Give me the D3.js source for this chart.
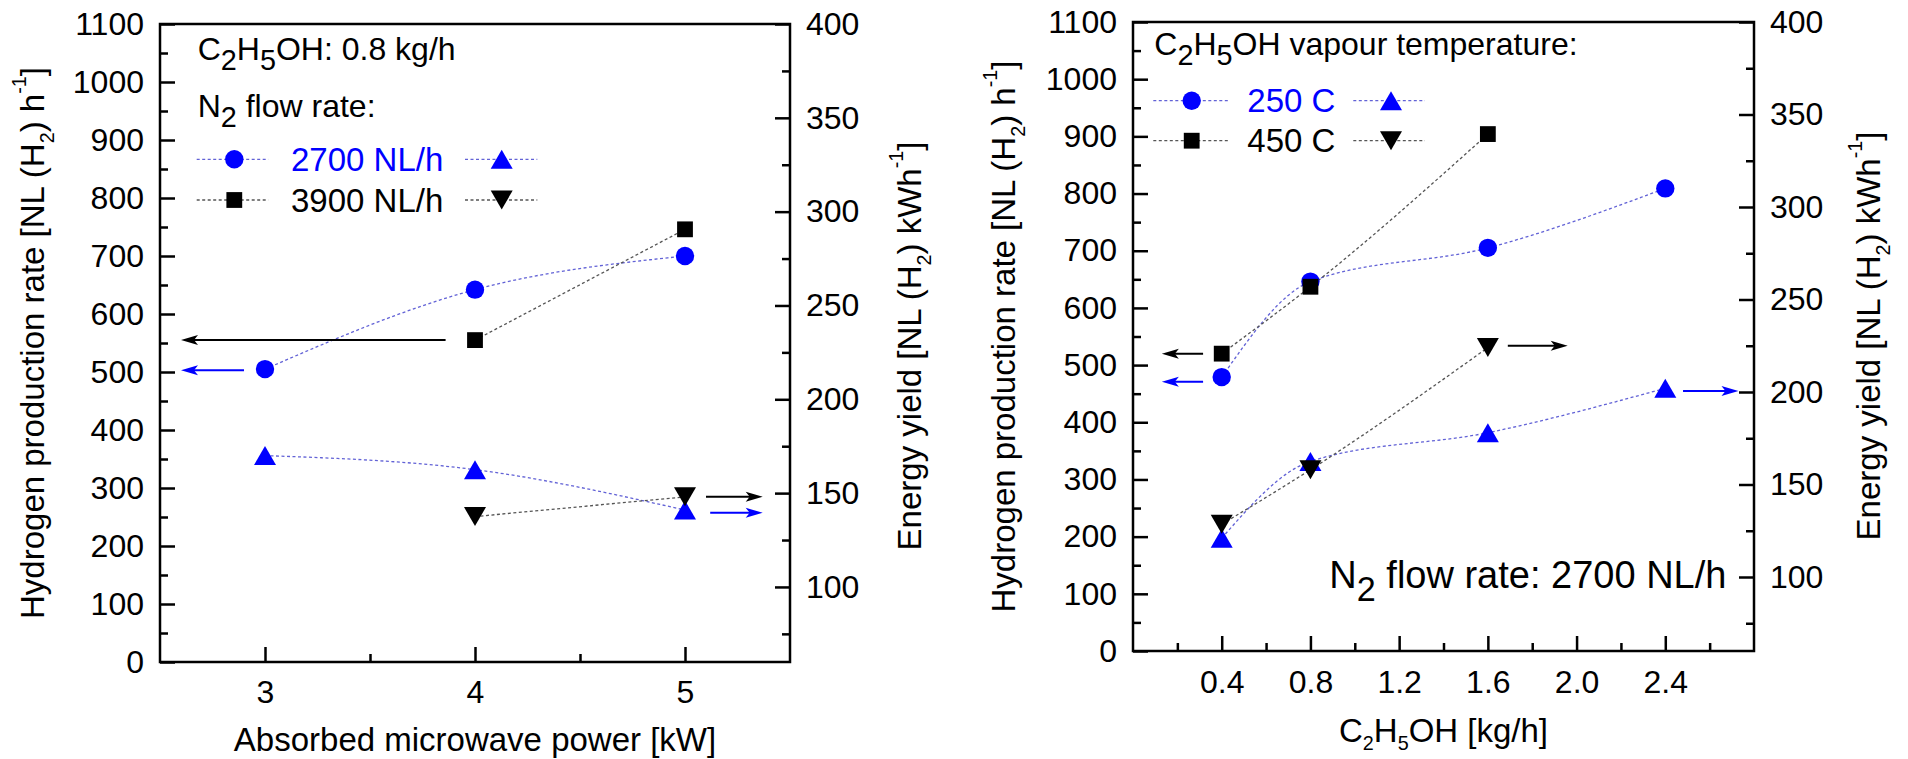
<!DOCTYPE html>
<html>
<head>
<meta charset="utf-8">
<script src="https://cdn.jsdelivr.net/npm/d3@7"></script>
<style>
  body { margin: 0; background: #fff; }
  svg text { font-family: "Liberation Sans", Arial, sans-serif; }
</style>
</head>
<body>
<div id="chart"></div>
<script>
// ---- values ----
// left: absorbed microwave power, C2H5OH 0.8 kg/h
powerKW = [3, 4, 5]
rate2700 = [505, 642, 700]        // H2 production rate, N2 2700 NL/h
rate3900 = [null, 555, 746]       // N2 3900 NL/h
yield2700 = [170, 162.5, 141]     // energy yield
yield3900 = [null, 137.5, 148]

// right: C2H5OH flow, N2 2700 NL/h
ethanolKgH = [0.4, 0.8, 1.6, 2.4]
rate250 = [479, 646, 705, 809]    // vapour 250 C
rate450 = [520, 637, 904, null]   // vapour 450 C
yield250 = [121, 162.5, 178, 202]
yield450 = [128.5, 158, 224, null]

// ticks
rateTicks = d3.range(0, 1101, 100)
rateMinor = d3.range(50, 1100, 100)
yieldTicks = d3.range(100, 401, 50)
yieldMinor = d3.range(75, 400, 50)
powerTicks = [3, 4, 5]
powerMinor = [3.5, 4.5]
ethanolTicks = [0.4, 0.8, 1.2, 1.6, 2.0, 2.4]
ethanolMinor = [0.2, 0.6, 1.0, 1.4, 1.8, 2.2, 2.6]

// arrows telling which axis a series is read on: x from, x to (tip), value
arrowsPower = [
  {series: 1, axis: "rate", from: 3.86, to: 2.6, v: 555},
  {series: 0, axis: "rate", from: 2.9, to: 2.6, v: 503},
  {series: 1, axis: "yield", from: 5.1, to: 5.37, v: 148},
  {series: 0, axis: "yield", from: 5.12, to: 5.37, v: 139.5}
]
arrowsEthanol = [
  {series: 1, axis: "rate", from: 0.316, to: 0.13, v: 520},
  {series: 0, axis: "rate", from: 0.316, to: 0.13, v: 471},
  {series: 1, axis: "yield", from: 1.69, to: 1.96, v: 225},
  {series: 0, axis: "yield", from: 2.48, to: 2.73, v: 200.5}
]

blue = "#0000ff"
black = "#000000"
lineColors = ["#6262d6", "#555555"]
markColors = [blue, black]

svg = d3.select("#chart").append("svg")
  .attr("width", 1908)
  .attr("height", 759)

// text with _{sub} and ^{sup} parts
function rich(text, str, sub, subDy) {
  var fs = +text.attr("font-size")
  var parts = str.match(/_\{[^}]*\}|\^\{[^}]*\}|[^_^]+/g)
  var shift = 0
  parts.forEach(function(p) {
    var size = fs, target = 0, s = p
    if (p[0] == "_") { s = p.slice(2, -1); size = fs * sub; target = subDy * fs }
    else if (p[0] == "^") { s = p.slice(2, -1); size = fs * 0.6; target = -0.55 * fs }
    text.append("tspan")
      .attr("dy", target - shift)
      .attr("font-size", size)
      .text(s)
    shift = target
  })
  return text
}

function label(x, y, str, size, opts) {
  opts = opts || {}
  var t = svg.append("text")
    .attr("font-size", size)
    .attr("fill", opts.color || "#000")
    .attr("text-anchor", opts.anchor || "start")
  if (opts.rotate) t.attr("transform", "translate(" + x + "," + y + ") rotate(-90)")
  else t.attr("x", x).attr("y", y)
  return rich(t, str, opts.sub || 0.6, opts.subDy || 0.3)
}

function marker(g, type, x, y, color) {
  if (type == "circle") {
    g.append("circle").attr("cx", x).attr("cy", y).attr("r", 9.2).attr("fill", color)
  } else if (type == "square") {
    g.append("rect").attr("x", x - 7.9).attr("y", y - 7.9).attr("width", 15.8).attr("height", 15.8).attr("fill", color)
  } else if (type == "up") {
    g.append("path").attr("d", `M${x},${y - 9.5}L${x + 11},${y + 9.5}L${x - 11},${y + 9.5}Z`).attr("fill", color)
  } else {
    g.append("path").attr("d", `M${x},${y + 9.5}L${x + 11},${y - 9.5}L${x - 11},${y - 9.5}Z`).attr("fill", color)
  }
}

function addAxis(gen, tx, ty, major, minor, fmt, pad) {
  var g = svg.append("g").attr("transform", `translate(${tx},${ty})`)
  g.call(gen.tickValues(major).tickFormat(fmt).tickSize(-15).tickSizeOuter(0).tickPadding(pad))
  g.append("g").call(gen.tickValues(minor).tickFormat("").tickSize(-8))
  g.selectAll(".domain").remove()
  g.selectAll(".tick line").attr("stroke-width", 2.5)
  g.attr("font-size", 32)
  g.selectAll("text").attr("fill", "#000")
  return g
}

function drawPanel(p) {
  var x = d3.scaleLinear().domain(p.xDomain).range([p.left, p.right])
  var yRate = d3.scaleLinear().domain([0, 1100]).range([p.bottom, p.top])
  var yYield = d3.scaleLinear().domain([60, 400]).range([p.bottom, p.top])

  addAxis(d3.axisLeft(yRate), p.left, 0, rateTicks, rateMinor, d3.format("d"), 16)
  addAxis(d3.axisRight(yYield), p.right, 0, yieldTicks, yieldMinor, d3.format("d"), 16)
  addAxis(d3.axisBottom(x), 0, p.bottom, p.xTicks, p.xMinor, p.xFormat, p.xPad)

  // frame
  svg.append("rect")
    .attr("x", p.left).attr("y", p.top)
    .attr("width", p.right - p.left).attr("height", p.bottom - p.top)
    .attr("fill", "none").attr("stroke", "#000").attr("stroke-width", 2.5)

  var g = svg.append("g")

  // spline lines first
  p.series.forEach(function(s, i) {
    [[s.rate, yRate], [s.yld, yYield]].forEach(function(pair) {
      var pts = p.xs.map((v, k) => [v, pair[0][k]])
      var line = d3.line()
        .defined(d => d[1] != null)
        .x(d => x(d[0]))
        .y(d => pair[1](d[1]))
        .curve(d3.curveMonotoneX)
      g.append("path")
        .attr("d", line(pts))
        .attr("fill", "none")
        .attr("stroke", lineColors[i])
        .attr("stroke-width", 1.3)
        .attr("stroke-dasharray", "3,2.5")
    })
  })

  // markers
  p.series.forEach(function(s, i) {
    p.xs.forEach(function(v, k) {
      if (s.rate[k] != null) marker(g, s.marks[0], x(v), yRate(s.rate[k]), markColors[i])
      if (s.yld[k] != null) marker(g, s.marks[1], x(v), yYield(s.yld[k]), markColors[i])
    })
  })

  // arrows
  p.arrows.forEach(function(a) {
    var y = a.axis == "rate" ? yRate(a.v) : yYield(a.v)
    var x0 = x(a.from), x1 = x(a.to)
    var dir = x1 < x0 ? -1 : 1
    var c = markColors[a.series]
    g.append("line")
      .attr("x1", x0).attr("x2", x1 - dir * 10)
      .attr("y1", y).attr("y2", y)
      .attr("stroke", c).attr("stroke-width", 2)
    g.append("path")
      .attr("d", `M${x1},${y}L${x1 - dir * 17},${y - 5}L${x1 - dir * 13},${y}L${x1 - dir * 17},${y + 5}Z`)
      .attr("fill", c)
  })

  // legend
  var L = p.legend
  p.series.forEach(function(s, i) {
    var ry = L.rows[i]
    ;[[L.line1, L.m1, s.marks[0]], [L.line2, L.m2, s.marks[1]]].forEach(function(e) {
      g.append("line")
        .attr("x1", e[0][0]).attr("x2", e[0][1])
        .attr("y1", ry).attr("y2", ry)
        .attr("stroke", lineColors[i]).attr("stroke-width", 1.3)
        .attr("stroke-dasharray", "3,2.5")
      marker(g, e[2], e[1], ry, markColors[i])
    })
    label(L.tx, ry + 11.5, s.name, 33, {color: markColors[i]})
  })
}

drawPanel({
  left: 160, right: 790, top: 24, bottom: 662,
  xDomain: [2.5, 5.5], xs: powerKW,
  xTicks: powerTicks, xMinor: powerMinor, xFormat: d3.format("d"), xPad: 18,
  series: [
    {name: "2700 NL/h", rate: rate2700, yld: yield2700, marks: ["circle", "up"]},
    {name: "3900 NL/h", rate: rate3900, yld: yield3900, marks: ["square", "down"]}
  ],
  arrows: arrowsPower,
  legend: {rows: [159.3, 200], line1: [196.7, 268.3], m1: 234.3, tx: 291, line2: [465, 537.3], m2: 501.7}
})

drawPanel({
  left: 1133, right: 1754, top: 22, bottom: 651,
  xDomain: [0, 2.8], xs: ethanolKgH,
  xTicks: ethanolTicks, xMinor: ethanolMinor, xFormat: d3.format(".1f"), xPad: 19,
  series: [
    {name: "250 C", rate: rate250, yld: yield250, marks: ["circle", "up"]},
    {name: "450 C", rate: rate450, yld: yield450, marks: ["square", "down"]}
  ],
  arrows: arrowsEthanol,
  legend: {rows: [100.7, 140.7], line1: [1153.3, 1229.3], m1: 1191.7, tx: 1247.3, line2: [1353.3, 1425], m2: 1391}
})

// annotations
label(197.7, 60, "C_{2}H_{5}OH: 0.8 kg/h", 32, {sub: 0.9, subDy: 0.3})
label(197.7, 117, "N_{2} flow rate:", 32, {sub: 0.9, subDy: 0.3})
label(1154.3, 55, "C_{2}H_{5}OH vapour temperature:", 32, {sub: 0.9, subDy: 0.3})
label(1329.3, 588, "N_{2} flow rate: 2700 NL/h", 38, {sub: 0.9, subDy: 0.35})

// axis titles
label(44, 343, "Hydrogen production rate [NL (H_{2}) h^{-1}]", 33, {rotate: true, anchor: "middle"})
label(921, 346, "Energy yield [NL (H_{2}) kWh^{-1}]", 33, {rotate: true, anchor: "middle"})
label(475, 751, "Absorbed microwave power [kW]", 33, {anchor: "middle"})
label(1015, 336.5, "Hydrogen production rate [NL (H_{2}) h^{-1}]", 33, {rotate: true, anchor: "middle"})
label(1880, 336, "Energy yield [NL (H_{2}) kWh^{-1}]", 33, {rotate: true, anchor: "middle"})
label(1443.5, 742, "C_{2}H_{5}OH [kg/h]", 33, {anchor: "middle", sub: 0.6, subDy: 0.25})
</script>
</body>
</html>
